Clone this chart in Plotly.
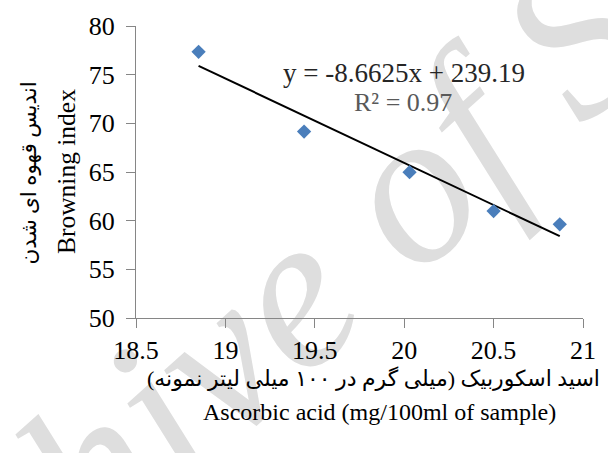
import plotly.graph_objects as go

# Data
ascorbic = [18.85, 19.44, 20.03, 20.50, 20.87]
browning = [77.35, 69.15, 64.98, 60.99, 59.62]
slope = -8.6625
intercept = 239.19
r2 = 0.97
x_ticks = [18.5, 19, 19.5, 20, 20.5, 21]
y_ticks = [50, 55, 60, 65, 70, 75, 80]

x_title_en = "Ascorbic acid (mg/100ml of sample)"
x_title_fa = "اسید اسکوربیک (میلی گرم در ۱۰۰ میلی لیتر نمونه)"
y_title_en = "Browning index"
y_title_fa = "اندیس قهوه ای شدن"
watermark = "Archive of SID"

SERIF = "Liberation Serif, Times New Roman, serif"
FA = "Liberation Serif, DejaVu Sans, serif"

trend_x = [min(ascorbic), max(ascorbic)]
trend_y = [slope * v + intercept for v in trend_x]

fig = go.Figure()
fig.add_trace(go.Scatter(x=trend_x, y=trend_y, mode="lines",
                         line=dict(color="black", width=2), showlegend=False,
                         hoverinfo="skip"))
fig.add_trace(go.Scatter(x=ascorbic, y=browning, mode="markers",
                         marker=dict(symbol="diamond", size=11, color="#4A7EBB",
                                     line=dict(width=0)),
                         showlegend=False))

L, R, T, B = 136, 21, 25, 135
W, H = 608, 453
pw, ph = W - L - R, H - T - B

def px(xp):
    return (xp - L) / pw

def py(yp):
    return (T + ph - yp) / ph

axis_common = dict(showgrid=False, zeroline=False, showline=True,
                   linecolor="#868686", linewidth=1.3, ticks="outside",
                   tickcolor="#868686", ticklen=9, tickwidth=1.3,
                   tickfont=dict(family=SERIF, size=26, color="black"))

fig.update_xaxes(range=[18.5, 21], tickvals=x_ticks,
                 ticktext=[f"{v:g}" for v in x_ticks], **axis_common)
fig.update_yaxes(range=[50, 80], tickvals=y_ticks,
                 ticktext=[str(v) for v in y_ticks], ticklabelstandoff=6,
                 **axis_common)

def ann(text, x, y, font, angle=0):
    return dict(text=text, x=px(x), y=py(y), xref="paper", yref="paper",
                xanchor="center", yanchor="middle", showarrow=False,
                textangle=angle, font=font)

annotations = [
    ann(f"y = {slope}x + {intercept}", 406, 72,
        dict(family=SERIF, size=27, color="#262626")),
    ann(f"R² = {r2:.2f}", 405, 102,
        dict(family=SERIF, size=26, color="#595959")),
    ann(x_title_fa, 376, 379, dict(family=FA, size=22, color="black")),
    ann(x_title_en, 382, 412, dict(family=SERIF, size=24, color="black")),
    ann(y_title_en, 66, 171, dict(family=SERIF, size=25.5, color="black"), -90),
    ann(y_title_fa, 29, 172, dict(family=FA, size=21.5, color="black"), -90),
]

cx, cy, half = 290, 262, 210
shapes = [dict(type="rect", xref="paper", yref="paper",
               x0=px(cx - half), x1=px(cx + half),
               y0=py(cy + half), y1=py(cy - half),
               line=dict(width=0), fillcolor="rgba(0,0,0,0)", layer="below",
               label=dict(text=watermark, textangle=-42,
                          textposition="middle center",
                          font=dict(family=SERIF, size=220,
                                    color="#dedede", style="italic")))]

fig.update_layout(width=W, height=H, margin=dict(l=L, r=R, t=T, b=B),
                  paper_bgcolor="white", plot_bgcolor="rgba(0,0,0,0)",
                  annotations=annotations, shapes=shapes, showlegend=False)

fig.write_html("out.html", post_script="document.body.style.margin='0';",
               config={"displayModeBar": False})
